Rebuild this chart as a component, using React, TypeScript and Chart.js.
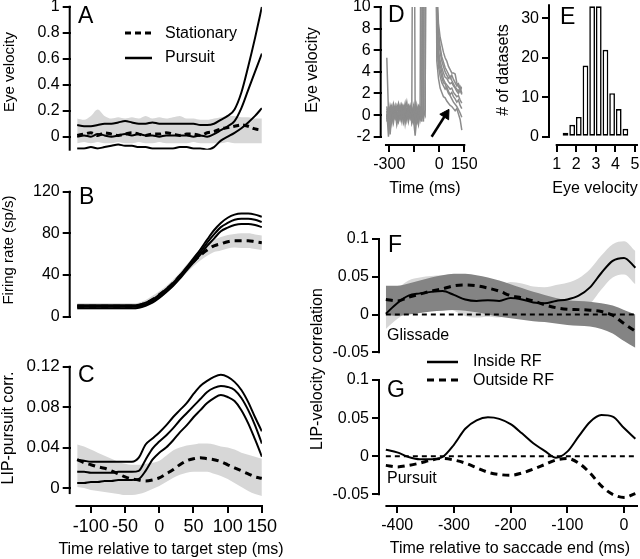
import React, { useEffect, useRef } from "react";
import { Chart, registerables } from "chart.js";

Chart.register(...registerables);

const FONT = '"Liberation Sans", Arial, Helvetica, sans-serif';
Chart.defaults.font.family = FONT;
Chart.defaults.color = "#000";

// ================= DATA =================
// Panels A-C: time relative to target step (ms)
const timeABC = [-120, -110, -100, -90, -80, -70, -60, -50, -40, -30, -20, -10, 0, 10, 20, 30, 40, 50, 60, 70, 80, 90, 100, 110, 120, 130, 140, 150];

// A: eye velocity
const aPursuitHigh = [0.09, 0.08, 0.08, 0.09, 0.1, 0.1, 0.11, 0.12, 0.11, 0.1, 0.1, 0.11, 0.1, 0.1, 0.1, 0.1, 0.1, 0.1, 0.09, 0.09, 0.1, 0.13, 0.16, 0.21, 0.34, 0.54, 0.76, 1.0];
const aPursuitMid = [0.0, 0.01, 0.0, 0.02, 0.01, 0.0, 0.01, 0.02, 0.01, 0.02, 0.01, 0.01, 0.0, 0.01, 0.01, 0.01, 0.01, 0.0, 0.01, 0.0, 0.02, 0.05, 0.08, 0.12, 0.22, 0.36, 0.5, 0.64];
const aPursuitLow = [-0.09, -0.09, -0.08, -0.09, -0.08, -0.07, -0.06, -0.07, -0.07, -0.08, -0.08, -0.09, -0.09, -0.09, -0.09, -0.08, -0.08, -0.09, -0.09, -0.1, -0.08, -0.03, 0.0, 0.03, 0.065, 0.11, 0.16, 0.22];
const aStationary = [0.01, 0.02, 0.03, 0.01, 0.03, 0.02, 0.01, 0.02, 0.03, 0.02, 0.01, 0.02, 0.02, 0.03, 0.02, 0.01, 0.02, 0.02, 0.01, 0.03, 0.04, 0.06, 0.07, 0.08, 0.09, 0.08, 0.06, 0.05];
const aStationaryHigh = [0.14, 0.13, 0.16, 0.21, 0.16, 0.14, 0.15, 0.14, 0.15, 0.14, 0.16, 0.14, 0.15, 0.14, 0.15, 0.16, 0.14, 0.14, 0.13, 0.13, 0.14, 0.15, 0.16, 0.16, 0.15, 0.15, 0.14, 0.14];
const aStationaryLow = [-0.05, -0.04, -0.05, -0.04, -0.05, -0.05, -0.04, -0.05, -0.05, -0.04, -0.05, -0.05, -0.04, -0.05, -0.05, -0.05, -0.05, -0.04, -0.05, -0.05, -0.05, -0.05, -0.04, -0.05, -0.05, -0.05, -0.05, -0.05];

// B: firing rate (sp/s)
const bPursuitHigh = [11, 11, 11, 11, 11, 11, 11, 11, 11, 11.5, 13.5, 16.5, 21, 26.5, 32.5, 39.5, 47.5, 56, 64.5, 74, 83, 90, 95, 98, 99, 99, 98, 96];
const bPursuitMid = [9.5, 9.5, 9.5, 9.5, 9.5, 9.5, 9.5, 9.5, 9.5, 10, 12, 15, 19.5, 25, 31, 38, 46, 54, 62, 71, 79, 86, 90, 93, 94, 94, 93, 91];
const bPursuitLow = [8, 8, 8, 8, 8, 8, 8, 8, 8, 8.5, 10.5, 13.5, 18, 23.5, 29.5, 36.5, 44.5, 52, 59.5, 68, 75, 82, 85.5, 88, 89, 89, 88, 86];
const bStationary = [10, 10, 10, 10, 10, 10, 10, 10, 10, 10.5, 13, 16.5, 21, 26, 32, 39, 46, 53, 59, 64, 68, 70, 72, 73, 73, 73, 72, 71];
const bStationaryHigh = [13, 13, 13, 13, 13, 13, 13, 13, 13, 13.5, 16, 20, 24.5, 29.5, 35.5, 42.5, 50, 57.5, 64, 69.5, 74, 76.5, 78.5, 79.5, 80, 80, 79, 78];
const bStationaryLow = [7, 7, 7, 7, 7, 7, 7, 7, 7, 7.5, 10, 13, 17.5, 22.5, 28.5, 35.5, 42, 48.5, 54, 58.5, 62, 63.5, 65.5, 66.5, 66, 66, 65, 64];

// C: LIP-pursuit correlation
const cPursuitHigh = [0.028, 0.027, 0.026, 0.026, 0.026, 0.026, 0.026, 0.026, 0.026, 0.03, 0.043, 0.049, 0.055, 0.062, 0.07, 0.077, 0.084, 0.093, 0.101, 0.106, 0.11, 0.112, 0.11, 0.105, 0.097, 0.085, 0.07, 0.056];
const cPursuitMid = [0.016, 0.016, 0.015, 0.015, 0.015, 0.015, 0.016, 0.016, 0.016, 0.017, 0.028, 0.039, 0.046, 0.052, 0.059, 0.067, 0.074, 0.081, 0.088, 0.095, 0.099, 0.101, 0.1, 0.097, 0.089, 0.077, 0.062, 0.044];
const cPursuitLow = [0.005, 0.005, 0.006, 0.006, 0.007, 0.007, 0.008, 0.008, 0.008, 0.009, 0.017, 0.028, 0.035, 0.04, 0.047, 0.055, 0.062, 0.07, 0.077, 0.084, 0.089, 0.092, 0.09, 0.086, 0.077, 0.064, 0.048, 0.031];
const cStationary = [0.028, 0.025, 0.023, 0.021, 0.0195, 0.017, 0.014, 0.011, 0.009, 0.008, 0.007, 0.008, 0.01, 0.014, 0.018, 0.023, 0.027, 0.029, 0.03, 0.029, 0.028, 0.026, 0.023, 0.02, 0.017, 0.014, 0.011, 0.0096];
const cStationaryHigh = [0.043, 0.041, 0.038, 0.035, 0.032, 0.029, 0.026, 0.024, 0.023, 0.023, 0.024, 0.025, 0.027, 0.032, 0.037, 0.04, 0.042, 0.043, 0.044, 0.044, 0.043, 0.041, 0.04, 0.038, 0.035, 0.033, 0.031, 0.029];
const cStationaryLow = [0.001, 0.0, -0.002, -0.003, -0.004, -0.005, -0.006, -0.007, -0.007, -0.006, -0.004, -0.001, 0.002, 0.006, 0.01, 0.013, 0.015, 0.016, 0.016, 0.016, 0.014, 0.012, 0.009, 0.005, 0.001, -0.003, -0.006, -0.008];

// D: eye velocity traces (time in ms)
const timeD = [-315, -305, -295, -285, -275, -265, -255, -245, -235, -225, -215, -205, -195, -185, -175, -165, -155, -145, -135, -125, -115, -105, -95, -85, -75, -65, -55, -45, -35, -25, -15, -5, 5, 15, 25, 35, 45, 55, 65, 75, 85, 95, 105, 115, 125, 135];
const dTrace1 = [5.3, 0.3, -0.4, 0.6, 0.1, -0.3, 0.8, 0.2, -0.4, 0.5, 0.0, 0.7, -0.2, 0.3, 0.9, 0.1, -0.6, 0.4, 0.2, 0.8, 0.3, -0.1, 0.6, 40, 40, 40, 40, 40, 40, 40, 12, 8.5, 7.2, 6.5, 5.8, 5.3, 5.0, 4.5, 4.2, 3.9, 3.9, 3.8, 3.0, 2.6, 2.5, 2.4];
const dTrace2 = [0.4, -2.0, 0.3, -0.5, 0.6, 0.2, -0.2, 0.5, 0.1, 0.7, -0.3, 0.4, 0.2, 0.6, -0.1, 0.3, 40, 0.5, 0.2, -0.4, 0.6, 0.3, 40, 40, 40, 40, 40, 40, 40, 40, 9, 6.0, 5.0, 4.4, 3.9, 3.5, 3.4, 3.1, 2.9, 3.0, 2.7, 2.5, 2.2, 2.0, 2.3, 1.9];
const dTrace3 = [-0.6, 0.5, -1.8, 0.2, -0.7, 0.4, 0.1, -0.5, 0.6, -0.2, 0.3, 1.1, 0.0, -0.4, 0.5, -0.8, -0.3, -1.9, -0.2, 0.4, -0.5, 0.2, -0.3, 0.5, 40, 40, 40, 40, 40, 30, 6.5, 4.5, 3.6, 3.0, 2.7, 2.4, 2.6, 2.2, 1.9, 2.1, 1.7, 1.5, 1.2, 1.4, 0.9, 0.6];
const dTrace4 = [0.8, -0.2, 0.9, 0.3, 1.0, -0.1, 0.6, 1.1, 0.2, -0.6, 0.8, 0.4, 1.2, 0.1, -0.3, 0.7, 0.3, -0.9, 0.9, 0.1, 1.0, 40, 40, 40, 40, 40, 40, 40, 40, 40, 5.0, 3.4, 2.5, 2.1, 1.7, 1.6, 1.3, 1.1, 0.9, 0.8, 0.6, 0.4, 0.6, 0.1, -0.4, -1.4];
const dTrace5 = [-0.4, 0.6, 0.0, -0.8, 0.4, 0.9, -0.5, 0.3, 0.9, 0.1, -0.7, 0.2, 0.6, -0.6, 0.2, -0.2, 0.8, -0.4, -0.7, 0.3, -0.2, 0.5, -0.6, 40, 40, 40, 40, 40, 40, 40, 10.5, 7.0, 5.8, 5.0, 4.5, 4.0, 3.7, 3.4, 3.6, 3.2, 2.9, 2.6, 2.4, 2.2, 2.6, 2.0];
const dTrace6 = [0.1, -0.9, 0.5, 0.9, -0.4, 0.3, -0.9, -0.1, 0.4, 1.0, 0.5, -0.4, 0.5, 0.9, 0.4, -0.5, 0.1, 1.0, -0.3, -0.9, 0.4, -0.6, 40, 40, 40, 40, 40, 40, 40, 35, 7.5, 5.0, 4.2, 3.5, 3.0, 2.9, 2.4, 2.0, 1.8, 1.5, 1.2, 1.0, 0.8, 0.5, 0.2, -0.2];
const dTrace7 = [0.6, 0.2, -0.7, 0.5, 0.3, -0.2, 0.4, 0.9, -0.3, 0.2, 0.6, -0.8, 0.3, 0.0, 0.7, 0.2, -0.4, 0.6, 0.5, -0.3, 0.8, 0.1, 0.4, 0.0, 40, 40, 40, 40, 40, 40, 8, 5.5, 4.6, 4.0, 3.3, 3.0, 2.8, 2.6, 2.4, 2.5, 2.1, 1.9, 1.7, 1.8, 1.4, 1.1];
const dTrace8 = [-0.2, 0.4, 0.7, -0.3, 0.2, 0.6, 0.0, -0.6, 0.3, 0.8, -0.1, 0.5, -0.5, 0.4, -0.2, 0.6, 0.2, 0.3, -0.5, 0.7, 0.0, 0.3, 40, 40, 40, 40, 40, 40, 40, 40, 11, 7.8, 6.3, 5.4, 4.9, 4.4, 4.1, 3.8, 3.4, 3.7, 3.3, 3.0, 2.7, 2.9, 2.5, 2.6];
const dArrowTime = [-46, 39];
const dArrowVel = [-2.0, 0.06];

// E: histogram of eye velocity
const eBinCenters = [1.45, 1.79, 2.13, 2.47, 2.81, 3.15, 3.49, 3.83, 4.17, 4.51];
const eCounts = [1, 3, 5, 18, 33, 33, 22, 11, 7, 2];

// F, G: time relative to saccade end (ms)
const timeFG = [-420, -400, -380, -360, -340, -320, -300, -280, -260, -240, -220, -200, -180, -160, -140, -120, -100, -80, -60, -40, -20, 0, 20];
const fInside = [0.001, 0.015, 0.025, 0.028, 0.03, 0.031, 0.026, 0.02, 0.018, 0.019, 0.018, 0.022, 0.02, 0.016, 0.015, 0.018, 0.02, 0.025, 0.036, 0.055, 0.071, 0.075, 0.062];
const fInsideHigh = [0.02, 0.034, 0.045, 0.049, 0.051, 0.052, 0.047, 0.041, 0.039, 0.04, 0.039, 0.043, 0.041, 0.037, 0.036, 0.039, 0.042, 0.048, 0.06, 0.078, 0.093, 0.097, 0.084];
const fInsideLow = [-0.019, -0.006, 0.004, 0.007, 0.009, 0.01, 0.005, -0.002, -0.004, -0.003, -0.004, 0.0, -0.002, -0.006, -0.007, -0.004, -0.002, 0.003, 0.014, 0.033, 0.049, 0.053, 0.04];
const fOutside = [0.02, 0.018, 0.023, 0.027, 0.031, 0.034, 0.038, 0.039, 0.038, 0.035, 0.031, 0.025, 0.022, 0.018, 0.013, 0.009, 0.007, 0.0065, 0.0057, 0.004, -0.001, -0.012, -0.022];
const fOutsideHigh = [0.038, 0.038, 0.041, 0.045, 0.049, 0.052, 0.054, 0.054, 0.052, 0.049, 0.045, 0.04, 0.035, 0.03, 0.026, 0.022, 0.019, 0.018, 0.017, 0.015, 0.012, 0.006, 0.0];
const fOutsideLow = [0.0, -0.002, 0.0, 0.002, 0.004, 0.005, 0.006, 0.005, 0.003, 0.0, -0.003, -0.005, -0.007, -0.009, -0.01, -0.012, -0.014, -0.015, -0.016, -0.019, -0.025, -0.035, -0.044];
const gInside = [0.0085, 0.005, -0.001, -0.004, -0.004, -0.001, 0.015, 0.036, 0.047, 0.051, 0.049, 0.042, 0.03, 0.017, 0.007, -0.002, 0.006, 0.026, 0.045, 0.054, 0.052, 0.037, 0.023];
const gOutside = [-0.012, -0.014, -0.012, -0.009, -0.005, -0.003, -0.005, -0.009, -0.015, -0.021, -0.024, -0.025, -0.022, -0.017, -0.011, -0.005, -0.003, -0.009, -0.022, -0.039, -0.05, -0.054, -0.049];
const zeroLineTime = [-420, 22];
const zeroLineValue = [0, 0];

// Tick values
const aVelTicks = [0, 0.2, 0.4, 0.6, 0.8, 1];
const bRateTicks = [0, 40, 80, 120];
const cCorrTicks = [0, 0.04, 0.08, 0.12];
const abcTimeTicks = [-100, -50, 0, 50, 100, 150];
const dVelTicks = [-2, 0, 2, 4, 6, 8, 10];
const dTimeTicks = [-300, -150, 0, 150];
const dTimeLabels = ["-300", "", "0", "150"];
const eCountTicks = [0, 10, 20, 30];
const eVelTicks = [1, 2, 3, 4, 5];
const fgCorrTicks = [-0.05, 0, 0.05, 0.1];
const gTimeTicks = [-400, -300, -200, -100, 0];

// ================= LAYOUT / HELPERS =================
const CW = 640;
const CH = 559;
const YW = 60;
const XH = 54;

type Axis = {
  min: number;
  max: number;
  ticks: number[];
  labels?: string[];
  size?: number;
  spine?: [number, number];
  show?: boolean;
};
type Panel = {
  type: "line" | "bar";
  area: [number, number, number, number];
  x: Axis;
  y: Axis;
  datasets: any[];
};

const pts = (xs: number[], ys: number[]) => xs.map((x, i) => ({ x, y: ys[i] }));

const solid = (xs: number[], ys: number[], w = 2) => ({
  data: pts(xs, ys),
  borderColor: "#000",
  borderWidth: w,
  pointRadius: 0,
  fill: false,
  tension: 0.4,
  cubicInterpolationMode: "monotone",
});
const dashed = (xs: number[], ys: number[], dash = [7, 5], w = 3) => ({
  ...solid(xs, ys, w),
  borderDash: dash,
});
const bandTop = (xs: number[], ys: number[], color: string) => ({
  data: pts(xs, ys),
  borderColor: "rgba(0,0,0,0)",
  borderWidth: 1,
  pointRadius: 0,
  fill: "+1",
  backgroundColor: color,
  tension: 0.4,
  cubicInterpolationMode: "monotone",
});
const bandBottom = (xs: number[], ys: number[]) => ({
  data: pts(xs, ys),
  borderColor: "rgba(0,0,0,0)",
  borderWidth: 1,
  pointRadius: 0,
  fill: false,
  tension: 0.4,
  cubicInterpolationMode: "monotone",
});
const trace = (ys: number[]) => ({
  data: pts(timeD, ys),
  borderColor: "#8c8c8c",
  borderWidth: 1.5,
  pointRadius: 0,
  fill: false,
  tension: 0,
});

const LIGHT = "#d7d7d7";
const DARK = "#848484";

const panels: Panel[] = [
  {
    type: "line",
    area: [70.7, 6.7, 261.9, 149.7],
    x: { min: -129.5, max: 150, ticks: abcTimeTicks, show: false },
    y: { min: -0.1, max: 1, ticks: aVelTicks, size: 16, spine: [1, -0.1] },
    datasets: [
      solid(timeABC, aPursuitHigh),
      solid(timeABC, aPursuitMid),
      solid(timeABC, aPursuitLow),
      dashed(timeABC, aStationary, [6, 4], 3),
      bandTop(timeABC, aStationaryHigh, LIGHT),
      bandBottom(timeABC, aStationaryLow),
    ],
  },
  {
    type: "line",
    area: [70.7, 191.7, 261.9, 316.7],
    x: { min: -129.5, max: 150, ticks: abcTimeTicks, show: false },
    y: { min: 0, max: 120, ticks: bRateTicks, size: 16, spine: [120, 0] },
    datasets: [
      solid(timeABC, bPursuitHigh),
      solid(timeABC, bPursuitMid),
      solid(timeABC, bPursuitLow),
      dashed(timeABC, bStationary, [7, 5], 3),
      bandTop(timeABC, bStationaryHigh, LIGHT),
      bandBottom(timeABC, bStationaryLow),
    ],
  },
  {
    type: "line",
    area: [70.7, 366.7, 261.9, 505],
    x: { min: -129.5, max: 150, ticks: abcTimeTicks, size: 18, spine: [-121, 150] },
    y: { min: -0.0168, max: 0.12, ticks: cCorrTicks, size: 17, spine: [0.12, -0.005] },
    datasets: [
      solid(timeABC, cPursuitHigh),
      solid(timeABC, cPursuitMid),
      solid(timeABC, cPursuitLow),
      dashed(timeABC, cStationary, [7, 5], 3),
      bandTop(timeABC, cStationaryHigh, LIGHT),
      bandBottom(timeABC, cStationaryLow),
    ],
  },
  {
    type: "line",
    area: [381.7, 6.5, 464.3, 144],
    x: { min: -345.6, max: 150, ticks: dTimeTicks, labels: dTimeLabels, size: 16, spine: [-320, 150] },
    y: { min: -2.673, max: 10, ticks: dVelTicks, size: 16, spine: [10, -2] },
    datasets: [
      {
        data: pts(dArrowTime, dArrowVel),
        borderColor: "#000",
        borderWidth: 2.5,
        pointRadius: [0, 6],
        pointStyle: "triangle",
        pointRotation: 32,
        pointBackgroundColor: "#000",
        pointBorderColor: "#000",
        pointBorderWidth: 1,
        fill: false,
        clip: false,
      },
      trace(dTrace1),
      trace(dTrace2),
      trace(dTrace3),
      trace(dTrace4),
      trace(dTrace5),
      trace(dTrace6),
      trace(dTrace7),
      trace(dTrace8),
    ],
  },
  {
    type: "bar",
    area: [550, 5, 637, 144],
    x: { min: 0.658, max: 5.102, ticks: eVelTicks, size: 16, spine: [1, 5.1] },
    y: { min: -1.85, max: 33.34, ticks: eCountTicks, size: 16, spine: [33.3, 0] },
    datasets: [
      {
        data: pts(eBinCenters, eCounts),
        backgroundColor: "#fff",
        borderColor: "#000",
        borderWidth: 1.6,
        borderSkipped: false,
        barPercentage: 0.86,
        categoryPercentage: 1,
      },
    ],
  },
  {
    type: "line",
    area: [380, 239, 637, 352.3],
    x: { min: -430.3, max: 22.9, ticks: gTimeTicks, show: false },
    y: { min: -0.05, max: 0.1, ticks: fgCorrTicks, size: 16, spine: [0.1, -0.05] },
    datasets: [
      solid(timeFG, fInside),
      dashed(timeFG, fOutside, [7, 5], 3),
      { ...dashed(zeroLineTime, zeroLineValue, [5, 4], 2), tension: 0 },
      bandTop(timeFG, fOutsideHigh, DARK),
      bandBottom(timeFG, fOutsideLow),
      bandTop(timeFG, fInsideHigh, LIGHT),
      bandBottom(timeFG, fInsideLow),
    ],
  },
  {
    type: "line",
    area: [380, 380, 637, 505],
    x: { min: -430.3, max: 22.9, ticks: gTimeTicks, size: 16, spine: [-419, 22.9] },
    y: { min: -0.064, max: 0.1, ticks: fgCorrTicks, size: 16, spine: [0.1, -0.05] },
    datasets: [
      solid(timeFG, gInside),
      dashed(timeFG, gOutside, [7, 5], 3),
      { ...dashed(zeroLineTime, zeroLineValue, [5, 4], 2), tension: 0 },
    ],
  },
];

function scaleOpts(ax: Axis, isX: boolean) {
  const shown = ax.show !== false;
  return {
    type: "linear",
    display: shown,
    min: ax.min,
    max: ax.max,
    offset: false,
    grid: {
      display: true,
      drawOnChartArea: false,
      drawTicks: true,
      tickLength: 8,
      color: "#000",
      lineWidth: 2,
      offset: false,
    },
    border: { display: false },
    ticks: {
      font: { size: ax.size ?? 15, family: FONT },
      color: "#000",
      padding: 3,
      autoSkip: false,
      maxRotation: 0,
      minRotation: 0,
      callback: (v: number, i: number) => (ax.labels ? ax.labels[i] : String(v)),
    },
    afterBuildTicks: (s: any) => {
      s.ticks = ax.ticks.map((v) => ({ value: v }));
    },
    afterFit: (s: any) => {
      if (isX) s.height = shown ? XH : 0;
      else s.width = shown ? YW : 0;
      s.paddingLeft = 0;
      s.paddingRight = 0;
      s.paddingTop = 0;
      s.paddingBottom = 0;
    },
  };
}

function spinePlugin(p: Panel) {
  return {
    id: "spines",
    afterDraw(chart: any) {
      const { ctx, chartArea, scales } = chart;
      ctx.save();
      ctx.strokeStyle = "#000";
      ctx.lineWidth = 2;
      if (p.y.spine) {
        const a = scales.y.getPixelForValue(p.y.spine[0]);
        const b = scales.y.getPixelForValue(p.y.spine[1]);
        ctx.beginPath();
        ctx.moveTo(chartArea.left - 1, a - 1);
        ctx.lineTo(chartArea.left - 1, b + 1);
        ctx.stroke();
      }
      if (p.x.spine && p.x.show !== false) {
        const a = scales.x.getPixelForValue(p.x.spine[0]);
        const b = scales.x.getPixelForValue(p.x.spine[1]);
        ctx.beginPath();
        ctx.moveTo(a - 1, chartArea.bottom + 1);
        ctx.lineTo(b + 1, chartArea.bottom + 1);
        ctx.stroke();
      }
      ctx.restore();
    },
  };
}

// Figure text (layout positions, page pixels)
const letterItems: [string, number, number][] = [
  ["A", 78, 23],
  ["B", 79, 204],
  ["C", 78, 382],
  ["D", 388, 22],
  ["E", 560, 24],
  ["F", 388, 252],
  ["G", 387, 397],
];
const yTitleItems: [string, number, number, number][] = [
  ["Eye velocity", 10, 72, 15],
  ["Firing rate (sp/s)", 9, 250, 15],
  ["LIP-pursuit corr.", 9, 428, 16],
  ["Eye velocity", 313, 70, 16],
  ["# of datasets", 504, 70, 16],
  ["LIP-velocity correlation", 318, 369, 16],
];
const xTitleItems: [string, number, number][] = [
  ["Time (ms)", 425, 189],
  ["Eye velocity", 595, 189],
  ["Time relative to target step (ms)", 171, 550],
  ["Time relative to saccade end (ms)", 510, 549],
];
const labelItems: [string, number, number][] = [
  ["Stationary", 165, 34],
  ["Pursuit", 165, 58],
  ["Inside RF", 473, 362],
  ["Outside RF", 473, 381],
  ["Glissade", 387, 336],
  ["Pursuit", 387, 479],
];
const legendSamples: { x1: number; x2: number; y: number; dash: number[]; w: number }[] = [
  { x1: 125, x2: 152, y: 33, dash: [6, 4], w: 3 },
  { x1: 125, x2: 152, y: 58, dash: [], w: 2.5 },
  { x1: 427, x2: 458, y: 362, dash: [], w: 2.5 },
  { x1: 427, x2: 458, y: 380, dash: [7, 5], w: 3 },
];

const textPlugin = {
  id: "figText",
  afterDraw(chart: any) {
    const ctx = chart.ctx as CanvasRenderingContext2D;
    ctx.save();
    ctx.fillStyle = "#000";
    ctx.font = `23px ${FONT}`;
    ctx.textAlign = "left";
    ctx.textBaseline = "alphabetic";
    letterItems.forEach(([s, x, y]) => ctx.fillText(s, x, y));

    ctx.font = `16px ${FONT}`;
    ctx.textAlign = "center";
    ctx.textBaseline = "middle";
    xTitleItems.forEach(([s, x, y]) => ctx.fillText(s, x, y));
    yTitleItems.forEach(([s, x, y, size]) => {
      ctx.save();
      ctx.font = `${size}px ${FONT}`;
      ctx.translate(x, y);
      ctx.rotate(-Math.PI / 2);
      ctx.fillText(s, 0, 0);
      ctx.restore();
    });
    ctx.textAlign = "left";
    labelItems.forEach(([s, x, y]) => ctx.fillText(s, x, y));

    ctx.strokeStyle = "#000";
    legendSamples.forEach((l) => {
      ctx.lineWidth = l.w;
      ctx.setLineDash(l.dash);
      ctx.beginPath();
      ctx.moveTo(l.x1, l.y);
      ctx.lineTo(l.x2, l.y);
      ctx.stroke();
    });
    ctx.restore();
  },
};

function makeConfig(p: Panel, extra: any[]) {
  const [l, t, r, b] = p.area;
  const xShown = p.x.show !== false;
  return {
    type: p.type,
    data: { datasets: p.datasets },
    options: {
      responsive: false,
      maintainAspectRatio: false,
      animation: false,
      devicePixelRatio: 1,
      events: [],
      layout: {
        padding: {
          left: l - YW,
          top: t,
          right: CW - r,
          bottom: CH - b - (xShown ? XH : 0),
        },
      },
      plugins: { legend: { display: false }, tooltip: { enabled: false } },
      scales: { x: scaleOpts(p.x, true), y: scaleOpts(p.y, false) },
    },
    plugins: [spinePlugin(p), ...extra],
  } as any;
}

export default function App() {
  const refs = useRef<(HTMLCanvasElement | null)[]>([]);
  useEffect(() => {
    const charts = panels.map(
      (p, i) => new Chart(refs.current[i] as HTMLCanvasElement, makeConfig(p, i === panels.length - 1 ? [textPlugin] : []))
    );
    return () => charts.forEach((c) => c.destroy());
  }, []);
  return (
    <div style={{ position: "absolute", left: 0, top: 0, width: CW, height: CH, background: "#fff" }}>
      {panels.map((_, i) => (
        <canvas
          key={i}
          ref={(el) => {
            refs.current[i] = el;
          }}
          width={CW}
          height={CH}
          style={{ position: "absolute", left: 0, top: 0, width: CW, height: CH }}
        />
      ))}
    </div>
  );
}
